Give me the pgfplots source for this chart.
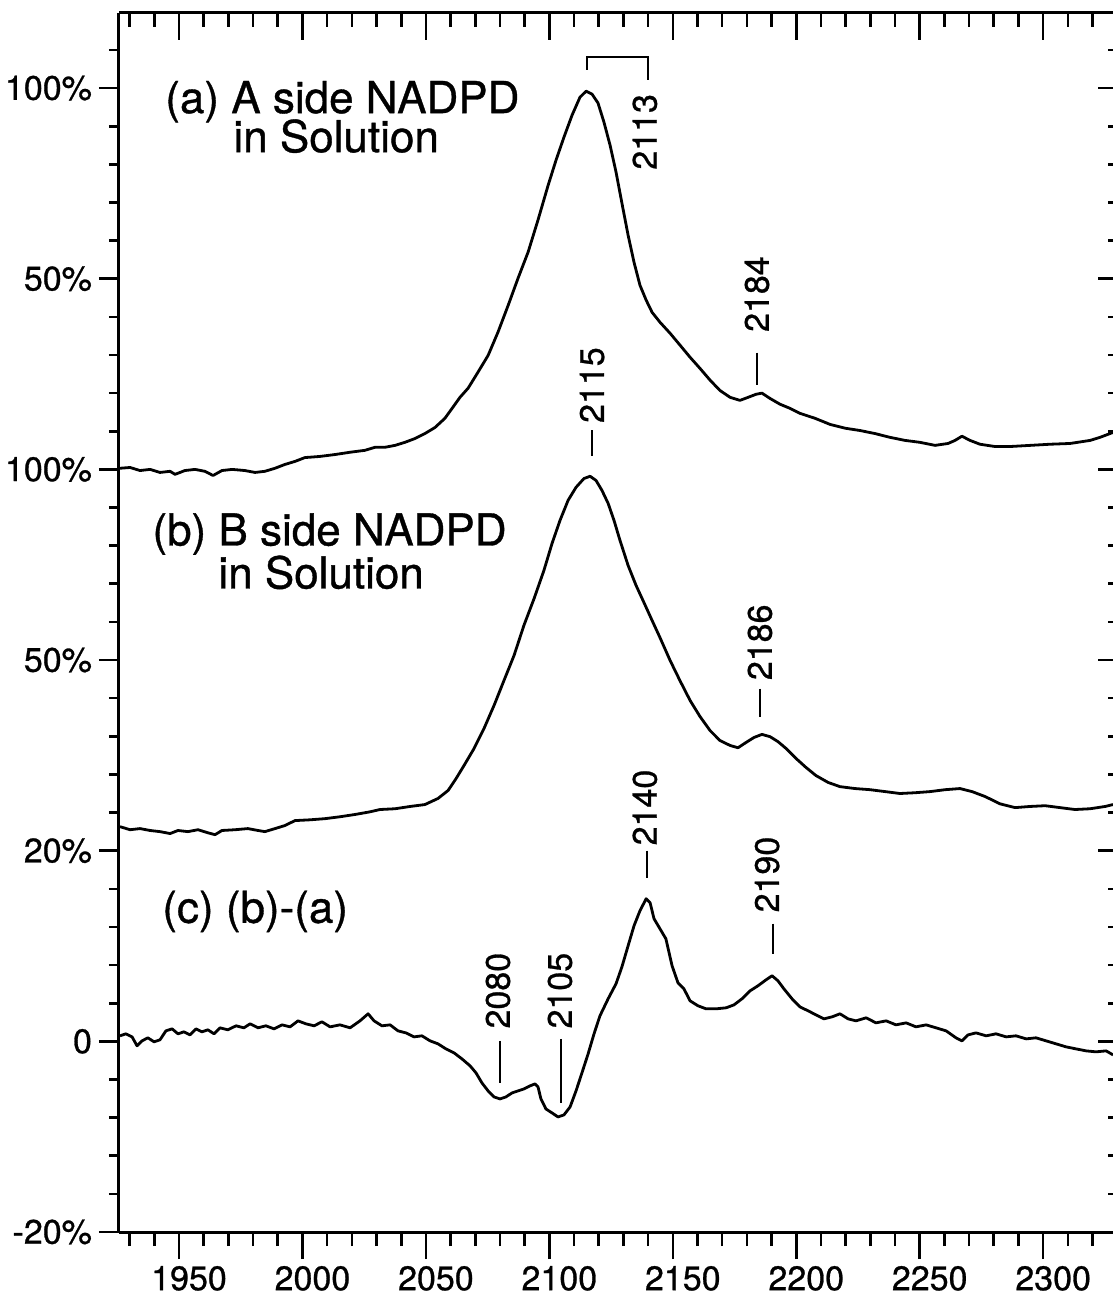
\documentclass[border=0pt]{standalone}
\usepackage{fontspec}
\setmainfont{TeX Gyre Heros}[FakeBold=0.8]
\usepackage{pgfplots}
\pgfplotsset{compat=1.18}
\newcommand\tickfont{\fontsize{17}{20}\selectfont}
\newcommand\labfont{\fontsize{22}{26}\selectfont}
\newcommand\annfont{\fontsize{17}{20}\selectfont}
\pgfplotsset{
  base/.style={scale only axis, width=498pt, height=609.5pt,
    at={(0,0)}, anchor=south west,
    xmin=1925.7, xmax=2329.1,
    axis line style={line width=1.5pt, black},
    tick style={line width=1.3pt, black},
    ticklabel style={font=\tickfont},
  },
  spec/.style={black, line width=1.4pt, mark=none, line join=round},
}
\begin{document}
\begin{tikzpicture}
% ---- bottom x axis, curve (a) in its own percent
\begin{axis}[base, ymin=-200, ymax=119.7,
  axis x line*=bottom, axis y line=none, tick align=outside,
  xtick={1950,2000,2050,2100,2150,2200,2250,2300},
  xticklabels={1950,2000,2050,2100,2150,2200,2250,2300},
  minor xtick={1930,1940,...,2320},
  major tick length=13.5pt, minor tick length=7pt,
  xticklabel style={xshift=5pt}]
\addplot[spec] table {
1926.1 0.3
1930.2 0.5
1934.2 -0.3
1938.3 0.0
1942.3 -0.8
1946.4 -0.5
1948.4 -1.3
1952.4 -0.3
1956.5 0.0
1960.5 -0.5
1963.8 -1.6
1967.4 -0.3
1971.5 0.0
1976.7 -0.3
1980.8 -0.8
1984.8 -0.5
1988.9 0.3
1992.9 1.3
1997.0 2.1
2001.0 3.1
2007.1 3.4
2013.2 3.9
2019.3 4.5
2025.3 5.0
2029.4 5.8
2033.4 5.8
2037.5 6.3
2041.5 7.1
2045.6 8.1
2049.6 9.4
2053.7 11.0
2057.7 13.4
2060.6 16.0
2063.8 18.9
2067.1 21.3
2071.1 25.5
2075.2 29.9
2079.2 36.0
2083.3 43.0
2087.3 50.1
2091.4 57.0
2095.4 65.4
2099.5 74.5
2102.7 81.1
2105.9 87.1
2109.2 92.9
2112.4 97.6
2114.9 99.2
2117.3 98.4
2119.7 96.1
2122.1 91.1
2124.6 85.0
2127.0 78.0
2129.4 69.8
2131.9 61.4
2134.3 54.3
2136.7 48.3
2139.2 44.4
2141.6 41.2
2144.8 38.6
2148.9 35.7
2152.9 32.6
2157.0 29.4
2161.0 26.5
2165.1 23.4
2169.1 20.7
2173.2 18.9
2177.2 18.1
2180.5 18.9
2183.7 19.7
2186.1 20.0
2189.4 18.6
2193.4 17.1
2197.5 16.0
2201.5 14.7
2207.6 13.4
2213.7 11.8
2219.8 10.8
2225.8 10.2
2231.9 9.4
2238.0 8.4
2244.1 7.6
2250.1 7.1
2256.2 6.3
2261.5 6.8
2264.3 7.6
2267.1 8.7
2270.4 7.6
2274.4 6.6
2280.5 6.0
2286.6 6.0
2294.7 6.3
2302.8 6.6
2310.9 6.8
2319.0 7.6
2323.0 8.4
2328.3 9.7
};
\end{axis}
% ---- top x axis
\begin{axis}[base, ymin=0, ymax=1,
  axis x line*=top, axis y line=none, tick align=inside,
  xtick={1950,2000,2050,2100,2150,2200,2250,2300},
  xticklabels={},
  minor xtick={1930,1940,...,2320},
  major tick length=13.5pt, minor tick length=7pt]
\end{axis}
% ---- right y axis, curve (b) in its own percent
\begin{axis}[base, ymin=-100, ymax=219.7,
  axis y line*=right, axis x line=none, tick align=inside,
  ytick={-100,-50,0,50,100,150,200}, yticklabels={},
  minor ytick={-100,-90,...,210},
  major tick length=8.5pt, minor tick length=3.5pt]
\addplot[spec] table {
1926.1 6.3
1930.2 5.5
1934.2 5.8
1938.3 5.3
1942.3 5.0
1946.4 4.5
1949.6 5.3
1953.6 5.0
1957.7 5.5
1961.7 4.7
1964.6 4.2
1967.4 5.3
1972.7 5.5
1977.9 5.8
1982.0 5.3
1984.8 5.0
1988.9 5.8
1992.9 6.6
1997.0 7.9
2003.1 8.1
2009.1 8.4
2015.2 8.9
2021.3 9.5
2027.4 10.2
2031.4 10.8
2037.5 11.0
2043.6 11.6
2049.6 12.1
2054.9 13.7
2059.0 15.8
2062.2 18.9
2065.4 22.3
2069.5 26.8
2073.5 32.0
2077.6 38.1
2081.6 44.6
2085.7 51.2
2089.7 59.1
2093.8 66.1
2097.8 73.5
2101.1 80.6
2104.3 86.6
2107.6 91.9
2110.8 95.3
2114.0 97.6
2116.5 98.2
2118.9 97.1
2121.3 94.5
2123.8 91.1
2126.2 86.6
2128.6 81.4
2131.9 74.8
2135.1 69.6
2138.3 65.1
2141.6 60.4
2144.8 55.9
2148.9 49.9
2152.9 44.6
2157.0 39.4
2161.0 35.2
2165.1 31.5
2169.1 28.9
2173.2 27.6
2176.4 27.0
2179.7 28.4
2182.9 29.7
2186.1 30.5
2189.4 29.9
2192.6 28.6
2195.9 26.8
2199.9 24.2
2204.0 21.8
2208.0 19.7
2212.9 17.9
2217.7 16.8
2223.8 16.3
2229.9 16.0
2236.0 15.5
2242.0 15.0
2248.1 15.2
2254.2 15.5
2260.3 16.0
2266.3 16.3
2271.2 15.5
2276.5 14.2
2282.5 12.3
2288.6 11.3
2294.7 11.6
2300.8 11.8
2306.8 11.3
2312.9 10.8
2319.0 11.0
2325.1 11.6
2328.3 12.1
};
\end{axis}
% ---- left y axis, curve (c) in its own percent, annotations
\begin{axis}[base, ymin=-20, ymax=107.88,
  axis y line*=left, axis x line=none, tick align=outside,
  ytick={-20,0,20,40,60,80,100},
  yticklabels={-20\%,0\hspace{7pt},20\%,50\%,100\%,50\%,100\%},
  minor ytick={-20,-16,...,104},
  major tick length=10pt, minor tick length=5pt]
\addplot[spec] table {
1926.1 0.58
1928.5 0.79
1931.0 0.47
1933.0 -0.47
1935.0 0.05
1937.4 0.37
1939.9 -0.05
1942.3 0.16
1944.7 1.10
1947.2 1.31
1949.6 0.79
1952.0 1.00
1954.5 0.68
1956.9 1.31
1959.3 1.00
1961.7 1.21
1964.2 0.79
1966.6 1.42
1969.8 1.21
1973.1 1.63
1976.3 1.42
1978.8 1.84
1982.0 1.42
1985.2 1.63
1988.5 1.31
1991.7 1.73
1995.0 1.52
1998.2 2.15
2001.4 1.84
2004.7 1.63
2007.9 2.05
2011.2 1.52
2015.2 1.73
2019.3 1.42
2023.3 2.15
2026.6 2.89
2029.0 2.15
2032.2 1.63
2035.5 1.73
2038.7 1.10
2041.9 0.89
2045.2 0.47
2048.4 0.58
2051.7 0.05
2054.9 -0.26
2058.1 -0.79
2061.4 -1.21
2064.6 -1.84
2067.9 -2.57
2070.3 -3.31
2072.7 -4.36
2075.2 -5.20
2077.6 -5.83
2080.0 -6.04
2082.4 -5.83
2084.9 -5.41
2087.3 -5.20
2089.7 -4.99
2092.2 -4.67
2094.2 -4.46
2095.4 -4.78
2096.6 -6.04
2098.6 -7.09
2101.1 -7.51
2103.5 -7.93
2105.9 -7.72
2108.4 -6.88
2110.8 -5.20
2113.2 -3.31
2115.7 -1.31
2118.1 0.79
2120.5 2.68
2123.8 4.46
2127.0 6.04
2129.4 7.82
2131.9 10.03
2134.3 12.13
2136.7 13.70
2139.2 14.96
2140.8 14.54
2142.4 12.86
2144.8 11.81
2147.2 10.76
2149.7 7.93
2152.1 6.14
2154.5 5.51
2157.0 4.25
2160.2 3.73
2163.5 3.41
2167.5 3.41
2171.6 3.52
2174.8 3.83
2178.0 4.46
2181.3 5.30
2184.5 5.83
2187.8 6.46
2190.2 6.88
2192.6 6.35
2195.0 5.51
2198.3 4.46
2201.5 3.62
2204.8 3.20
2208.0 2.78
2211.2 2.36
2214.5 2.57
2217.7 2.89
2221.0 2.36
2224.2 2.15
2228.3 2.47
2232.3 1.94
2236.4 2.15
2240.4 1.73
2244.5 1.94
2248.5 1.52
2252.6 1.73
2256.6 1.42
2260.7 1.10
2264.7 0.37
2267.1 0.05
2269.6 0.68
2272.8 0.89
2276.9 0.58
2280.9 0.79
2285.0 0.47
2289.0 0.58
2293.1 0.26
2297.1 0.37
2301.2 0.05
2305.2 -0.26
2309.3 -0.58
2313.3 -0.79
2317.4 -1.00
2321.4 -1.10
2325.5 -1.00
2328.3 -1.42
};
% panel labels
\node[anchor=base west, inner sep=0pt, font=\labfont] at (axis cs:1944.3,97.38) {(a) A side NADPD};
\node[anchor=base west, inner sep=0pt, font=\labfont] at (axis cs:1971.9,93.28) {in Solution};
\node[anchor=base west, inner sep=0pt, font=\labfont] at (axis cs:1939.1,52.02) {(b) B side NADPD};
\node[anchor=base west, inner sep=0pt, font=\labfont] at (axis cs:1965.8,47.51) {in Solution};
\node[anchor=base west, inner sep=0pt, font=\labfont] at (axis cs:1943.1,12.44) {(c) (b)-(a)};
% peak annotations
\draw[line width=1.3pt] (axis cs:2115.3,101.9) -- (axis cs:2115.3,103.25) -- (axis cs:2140.0,103.25) -- (axis cs:2140.0,100.8);
\node[rotate=90, anchor=west, inner sep=0pt, font=\annfont] at (axis cs:2138.7,91.4) {2113};
\node[rotate=90, anchor=west, inner sep=0pt, font=\annfont] at (axis cs:2184.1,74.38) {2184};
\draw[line width=1.3pt] (axis cs:2184.1,72.24) -- (axis cs:2184.1,68.87);
\node[rotate=90, anchor=west, inner sep=0pt, font=\annfont] at (axis cs:2117.3,64.83) {2115};
\draw[line width=1.3pt] (axis cs:2117.3,64.09) -- (axis cs:2117.3,61.36);
\node[rotate=90, anchor=west, inner sep=0pt, font=\annfont] at (axis cs:2185.3,37.85) {2186};
\draw[line width=1.3pt] (axis cs:2185.3,36.99) -- (axis cs:2185.3,34.05);
\node[rotate=90, anchor=west, inner sep=0pt, font=\annfont] at (axis cs:2138.7,20.52) {2140};
\draw[line width=1.3pt] (axis cs:2139.5,20.0) -- (axis cs:2139.5,17.17);
\node[rotate=90, anchor=west, inner sep=0pt, font=\annfont] at (axis cs:2188.2,13.49) {2190};
\draw[line width=1.3pt] (axis cs:2190.6,12.34) -- (axis cs:2190.6,9.19);
\node[rotate=90, anchor=west, inner sep=0pt, font=\annfont] at (axis cs:2079.2,1.31) {2080};
\draw[line width=1.3pt] (axis cs:2080.0,0.05) -- (axis cs:2080.0,-4.36);
\node[rotate=90, anchor=west, inner sep=0pt, font=\annfont] at (axis cs:2104.3,1.31) {2105};
\draw[line width=1.3pt] (axis cs:2104.7,0.26) -- (axis cs:2104.7,-6.46);
\end{axis}
\pgfresetboundingbox
\useasboundingbox (-59.5pt,-34.5pt) rectangle (497pt,616pt);
\end{tikzpicture}
\end{document}
